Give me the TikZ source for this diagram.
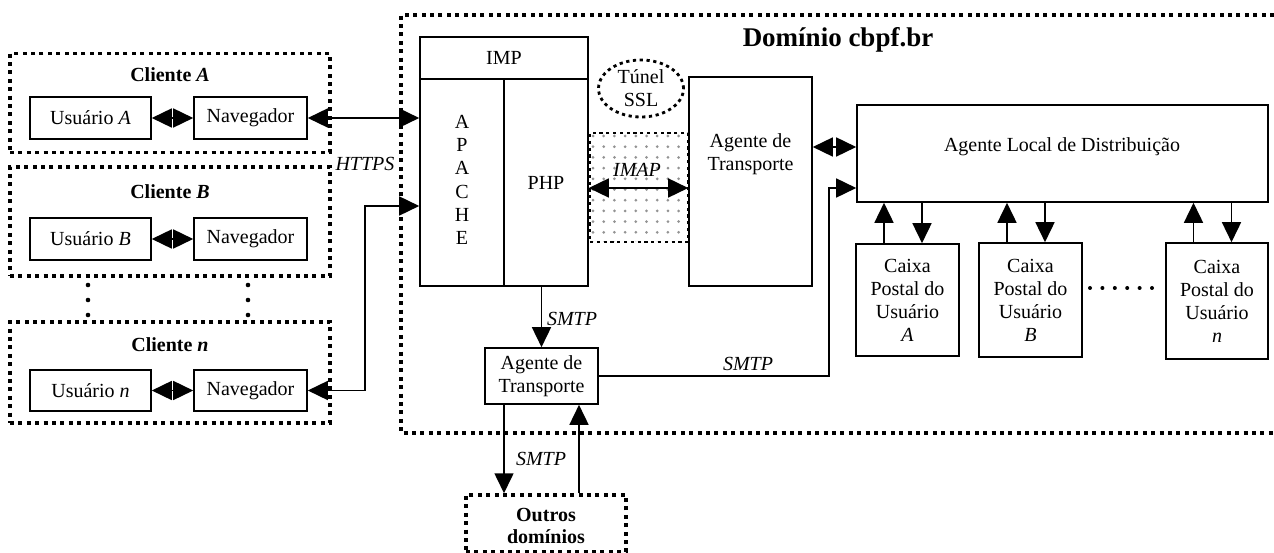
\documentclass[tikz,border=0pt]{standalone}
\usepackage{fontspec}
\setmainfont{Liberation Serif}
\usetikzlibrary{arrows.meta,shapes.geometric}
\begin{document}
\begin{tikzpicture}[x=1pt,y=-1pt,
  font=\fontsize{20}{23}\selectfont,
  box/.style={draw,line width=1.6pt,inner sep=0pt,align=center},
  dotbox/.style={draw,line width=3.5pt,dash pattern=on 4pt off 4.4pt,inner sep=0pt,align=center},
  finedot/.style={draw,line width=2.8pt,dash pattern=on 3.2pt off 3.6pt,inner sep=0pt},
  txt/.style={inner sep=0pt,align=center},
  conn/.style={line width=1.6pt},
  arr/.style={conn,-{Triangle[length=20pt,width=19pt]}},
  dbl/.style={conn,{Triangle[length=20pt,width=19pt]}-{Triangle[length=20pt,width=19pt]}},
  dotc/.style={fill=black,circle,inner sep=0pt,minimum size=4.6pt}
]
\useasboundingbox (0,0) rectangle (1274,553);

% ---------- domain ----------
\draw[line width=3.5pt,dash pattern=on 4pt off 4.4pt] (1274,15) -- (401,15) -- (401,433) -- (1274,433);
\node[txt,font=\fontsize{27}{30}\selectfont\bfseries] (dom) at (838,40) {Domínio cbpf.br};

% ---------- clients ----------
\node[dotbox,minimum width=320pt,minimum height=99pt] (cA) at (170,103) {};
\node[txt,font=\fontsize{20}{23}\selectfont\bfseries] (tA) at (170,75) {Cliente \textit{A}};
\node[box,minimum width=121pt,minimum height=42pt] (uA) at (90.5,118) {Usuário \textit{A}};
\node[box,minimum width=113pt,minimum height=42pt] (nA) at (250.5,118) {Navegador};

\node[dotbox,minimum width=320pt,minimum height=109pt] (cB) at (170,221.5) {};
\node[txt,font=\fontsize{20}{23}\selectfont\bfseries] (tB) at (170,192) {Cliente \textit{B}};
\node[box,minimum width=121pt,minimum height=42pt] (uB) at (90.5,239) {Usuário \textit{B}};
\node[box,minimum width=113pt,minimum height=42pt] (nB) at (250.5,239) {Navegador};

\node[dotbox,minimum width=320pt,minimum height=101pt] (cN) at (170,372.5) {};
\node[txt,font=\fontsize{20}{23}\selectfont\bfseries] (tN) at (170,345) {Cliente \textit{n}};
\node[box,minimum width=121pt,minimum height=41pt] (uN) at (90.5,390.5) {Usuário \textit{n}};
\node[box,minimum width=113pt,minimum height=41pt] (nN) at (250.5,390.5) {Navegador};

\foreach \yy [count=\i] in {285,300,315}{
  \node[dotc] (dl\i) at (88,\yy) {};
  \node[dotc] (dr\i) at (248,\yy) {};
}

\draw[dbl] (uA.east) -- (nA.west);
\draw[dbl] (uB.east) -- (nB.west);
\draw[dbl] (uN.east) -- (nN.west);

% ---------- IMP / Apache / PHP ----------
\node[box,minimum width=168pt,minimum height=42pt] (imp) at (504,58) {IMP};
\node[box,minimum width=84pt,minimum height=207pt] (apache) at (462,182.5) {};
\node[txt,font=\fontsize{20}{23.3}\selectfont] (apt) at (462,180) {A\\P\\A\\C\\H\\E};
\node[box,minimum width=84pt,minimum height=207pt] (php) at (546,182.5) {PHP};

\coordinate (hx) at (365,206);
\draw[dbl] (nA.east) -- (nA.east -| apache.west);
\draw[dbl] (nN.east) -| (hx) -- (hx -| apache.west);
\node[txt,font=\fontsize{20}{23}\selectfont\itshape] (https) at (365,164) {HTTPS};

% ---------- Tunnel SSL ----------
\node[ellipse,finedot,minimum width=85pt,minimum height=57pt] (ssl) at (641,88.5) {};
\node[txt] (sslt) at (641,88.5) {Túnel\\SSL};

% ---------- IMAP ----------
\begin{scope}
  \clip (590,133) rectangle (688,242);
  \foreach \i in {0,...,9}{
    \foreach \j in {0,...,10}{
      \fill[gray!85] (593+\i*10.7,136+\j*10.7) circle (1.5pt);
    }
  }
\end{scope}
\node[finedot,minimum width=98pt,minimum height=109pt] (imap) at (639,187.5) {};
\node[txt,font=\fontsize{20}{23}\selectfont\itshape] (imapt) at (637,170) {IMAP};

% ---------- Agente de Transporte (top) ----------
\node[box,minimum width=123pt,minimum height=209pt] (agT) at (750.5,181.5) {};
\node[txt] (agTt) at (750.5,154) {Agente de\\Transporte};

\coordinate (imc) at (639,188);
\draw[dbl] (imc -| php.east) -- (imc -| agT.west);

% ---------- Agente Local ----------
\node[box,minimum width=411pt,minimum height=97pt] (agL) at (1062.5,153.5) {};
\node[txt] (agLt) at (1062,147) {Agente Local de Distribuição};
\coordinate (dlc) at (830,147);
\draw[dbl] (dlc -| agT.east) -- (dlc -| agL.west);

% ---------- Caixas ----------
\node[box,minimum width=103pt,minimum height=112pt] (cxA) at (907.5,300) {Caixa\\Postal do\\Usuário\\\textit{A}};
\node[box,minimum width=103pt,minimum height=114pt] (cxB) at (1030.5,300) {Caixa\\Postal do\\Usuário\\\textit{B}};
\node[box,minimum width=102pt,minimum height=116pt] (cxN) at (1217,301) {Caixa\\Postal do\\Usuário\\\textit{n}};

\foreach \c in {cxA,cxB,cxN}{
  \draw[arr] ([xshift=-23.5pt]\c.north) -- ([xshift=-23.5pt]\c.north |- agL.south);
  \draw[arr] ([xshift=14.5pt]\c.north |- agL.south) -- ([xshift=14.5pt]\c.north);
}
\foreach \xx [count=\i] in {1090,1102.4,1114.8,1127.2,1139.6,1152}{
  \node[dotc,minimum size=4pt] (dd\i) at (\xx,288) {};
}

% ---------- Agente de Transporte (bottom) ----------
\node[box,minimum width=113pt,minimum height=56pt] (agB) at (541.5,376) {Agente de\\Transporte};
\draw[arr] (agB.north |- php.south) -- (agB.north);
\node[txt,font=\fontsize{20}{23}\selectfont\itshape] (s1) at (572,319) {SMTP};

\coordinate (sm) at (829,188);
\draw[arr] (agB.east) -| (sm) -- (sm -| agL.west);
\node[txt,font=\fontsize{20}{23}\selectfont\itshape] (s2) at (748,364) {SMTP};

% ---------- Outros dominios ----------
\node[dotbox,minimum width=160pt,minimum height=57pt] (out) at (546,523.5) {};
\node[txt,font=\fontsize{20}{22}\selectfont\bfseries] (outt) at (546,526) {Outros\\domínios};
\draw[arr] ([xshift=-37.5pt]agB.south) -- ([xshift=-37.5pt]agB.south |- out.north);
\draw[arr] ([xshift=37.5pt]agB.south |- out.north) -- ([xshift=37.5pt]agB.south);
\node[txt,font=\fontsize{20}{23}\selectfont\itshape] (s3) at (541,459) {SMTP};
\end{tikzpicture}
\end{document}
